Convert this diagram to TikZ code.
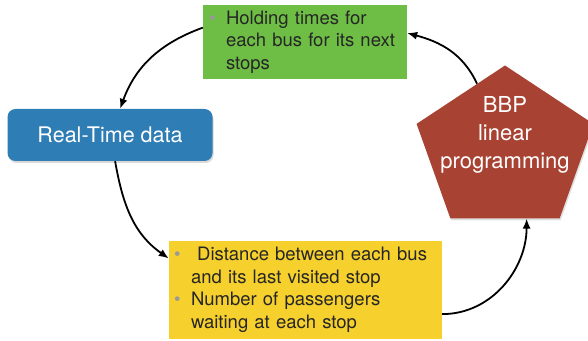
\documentclass[tikz,border=0pt]{standalone}
\usepackage{fontspec}
\setmainfont{TeX Gyre Heros}
\usepackage{xcolor}
\usepackage{tikz}
\usetikzlibrary{arrows.meta,shapes.geometric,shadows}

\definecolor{holdgreen}{RGB}{110,190,70}
\definecolor{rtblue}{RGB}{46,125,180}
\definecolor{lpred}{RGB}{168,66,50}
\definecolor{datyellow}{RGB}{246,208,45}

% bullet and hanging indent for the list boxes
\newcommand{\bul}{\makebox[17pt][l]{\textcolor{black!40}{\textbullet}}}
\newcommand{\ind}{\hspace*{17pt}}

\begin{document}
\begin{tikzpicture}[x=1pt, y=1pt,
    listbox/.style={rectangle, align=left, inner ysep=0pt, text=black!85,
                    font=\fontsize{18.5}{22.5}\selectfont},
    flow/.style={-{Latex[length=10pt,width=8pt]}, line width=1.8pt}]
  \useasboundingbox (0,0) rectangle (588,340);

  \node[listbox, fill=holdgreen, inner xsep=6pt, text width=192pt,
        minimum height=74pt] (hold) at (305,298) {%
    \bul Holding times for\\
    \ind each bus for its next\\
    \ind stops};

  \node[fill=rtblue, rounded corners=8pt, minimum width=205pt, minimum height=52pt,
        text=white, font=\fontsize{21.5}{26}\selectfont,
        drop shadow={shadow xshift=1pt, shadow yshift=-2pt, opacity=0.3}] (rt) at (110,205) {Real-Time data};

  \node[listbox, fill=datyellow, inner xsep=5pt, text width=263pt,
        minimum height=98pt] (dat) at (305.5,50) {%
    \bul\ Distance between each bus\\
    \ind and its last visited stop\\
    \bul Number of passengers\\
    \ind waiting at each stop};

  % the pentagon is a bit wider than a regular one
  \begin{scope}[shift={(505,190)}, xscale=1.1]
    \node[regular polygon, regular polygon sides=5, minimum size=169pt, inner sep=0pt,
          fill=lpred, transform shape,
          drop shadow={shadow xshift=1pt, shadow yshift=-2pt, opacity=0.25}] (lp) at (0,0) {};
  \end{scope}
  \node[text=white, align=center, font=\fontsize{22}{28}\selectfont] (lptext) at (505,205) {BBP\\linear\\programming};

  \draw[flow] (hold.172) to[out=200, in=70] (rt.69);
  \draw[flow] (rt.-79) to[out=-80, in=145] (dat.167);
  \draw[flow] (dat.-10) to[out=0, in=-90] (lp.-74);
  \draw[flow] (lp.111) to[out=115, in=-15] (hold.5);
\end{tikzpicture}
\end{document}
